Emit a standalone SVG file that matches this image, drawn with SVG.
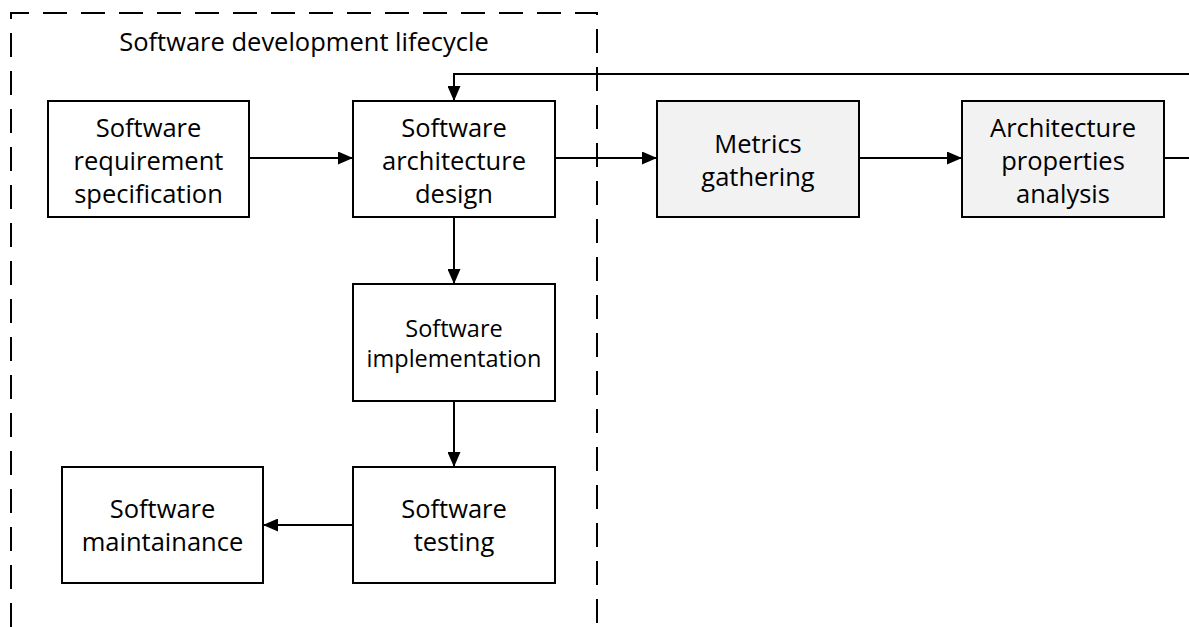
<svg xmlns="http://www.w3.org/2000/svg" width="1189" height="627" viewBox="0 0 1189 627">
<style>
.box{fill:#fff;stroke:#000;stroke-width:2}
.grey{fill:#f2f2f2}
.t{font-family:"Open Sans","Noto Sans",sans-serif;font-size:25.5px;fill:#000;text-anchor:middle}
.s{font-size:23.5px}
.c{fill:none;stroke:#000;stroke-width:2}
</style>
<defs>
<marker id="ah" markerWidth="15" markerHeight="13" refX="15" refY="6.5" orient="auto" markerUnits="userSpaceOnUse">
<path d="M0,0 L15,6.5 L0,13 Z" fill="#000"/>
</marker>
</defs>
<g id="lifecycle">
<path d="M11,627 L11,13 L597,13 L597,627" fill="none" stroke="#000" stroke-width="2" stroke-dasharray="24 14"/>
<text class="t" x="304" y="51">Software development lifecycle</text>
</g>
<g id="connectors">
<line class="c" x1="249" y1="158" x2="353" y2="158" marker-end="url(#ah)"/>
<line class="c" x1="555" y1="158" x2="657" y2="158" marker-end="url(#ah)"/>
<line class="c" x1="859" y1="158" x2="962" y2="158" marker-end="url(#ah)"/>
<line class="c" x1="1164" y1="158" x2="1189" y2="158"/>
<path class="c" d="M1189,74 L454,74 L454,101" marker-end="url(#ah)"/>
<line class="c" x1="454" y1="217" x2="454" y2="284" marker-end="url(#ah)"/>
<line class="c" x1="454" y1="401" x2="454" y2="467" marker-end="url(#ah)"/>
<line class="c" x1="353" y1="525" x2="263" y2="525" marker-end="url(#ah)"/>
</g>
<g id="req">
<rect class="box" x="48" y="101" width="201" height="116"/>
<text class="t" x="148.5" y="137">Software</text>
<text class="t" x="148.5" y="170">requirement</text>
<text class="t" x="148.5" y="203">specification</text>
</g>
<g id="arch">
<rect class="box" x="353" y="101" width="202" height="116"/>
<text class="t" x="454" y="137">Software</text>
<text class="t" x="454" y="170">architecture</text>
<text class="t" x="454" y="203">design</text>
</g>
<g id="metrics">
<rect class="box grey" x="657" y="101" width="202" height="116"/>
<text class="t" x="758" y="153">Metrics</text>
<text class="t" x="758" y="186">gathering</text>
</g>
<g id="analysis">
<rect class="box grey" x="962" y="101" width="202" height="116"/>
<text class="t" x="1063" y="137">Architecture</text>
<text class="t" x="1063" y="170">properties</text>
<text class="t" x="1063" y="203">analysis</text>
</g>
<g id="impl">
<rect class="box" x="353" y="284" width="202" height="117"/>
<text class="t s" x="454" y="337">Software</text>
<text class="t s" x="454" y="367">implementation</text>
</g>
<g id="testing">
<rect class="box" x="353" y="467" width="202" height="116"/>
<text class="t" x="454" y="518">Software</text>
<text class="t" x="454" y="551">testing</text>
</g>
<g id="maint">
<rect class="box" x="62" y="467" width="201" height="116"/>
<text class="t" x="162.5" y="518">Software</text>
<text class="t" x="162.5" y="551">maintainance</text>
</g>
</svg>
